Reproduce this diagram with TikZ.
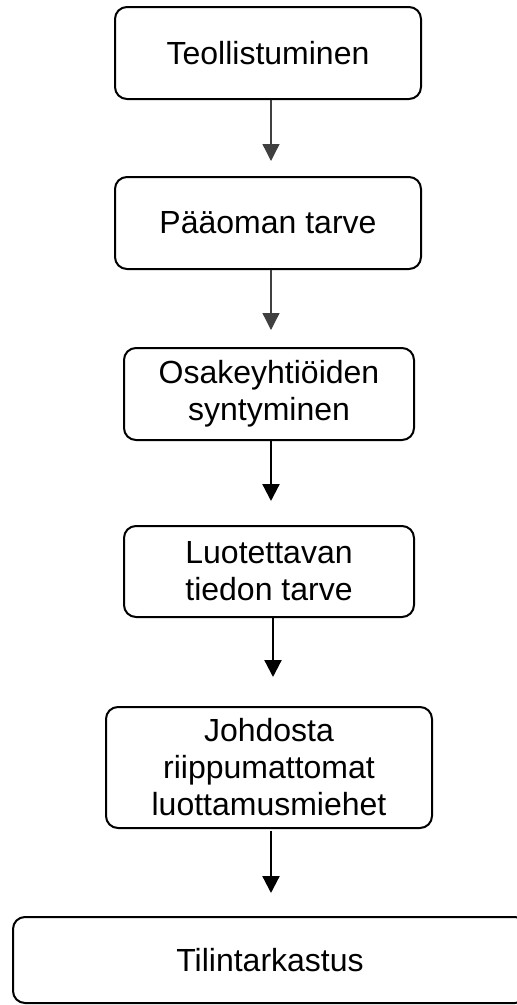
\documentclass[tikz,border=0pt]{standalone}
\usepackage{fontspec}
\setmainfont{Liberation Sans}
\usetikzlibrary{arrows.meta}
\begin{document}
\begin{tikzpicture}[x=1pt,y=-1pt,
  box/.style={draw=black, line width=2pt, rounded corners=12pt, align=center,
    font=\fontsize{32}{37}\selectfont, inner sep=0pt},
  thinarr/.style={draw=black!75, line width=1.3pt, -{Triangle[width=17pt,length=17pt]}},
  thickarr/.style={draw=black, line width=2.2pt, -{Triangle[width=17pt,length=17pt]}}]
\useasboundingbox (0,0) rectangle (517,1005);
\node[box, minimum width=306pt, minimum height=92pt] (b1) at (268,53) {Teollistuminen};
\node[box, minimum width=306pt, minimum height=92pt] (b2) at (268,223) {Pääoman tarve};
\node[box, minimum width=290pt, minimum height=92pt] (b3) at (269,394) {Osakeyhtiöiden\\syntyminen};
\node[box, minimum width=290pt, minimum height=91pt] (b4) at (269,571.5) {Luotettavan\\tiedon tarve};
\node[box, minimum width=326pt, minimum height=121pt] (b5) at (269,767.5) {Johdosta\\riippumattomat\\luottamusmiehet};
\node[box, minimum width=514pt, minimum height=86pt] (b6) at (270,960) {Tilintarkastus};
\draw[thinarr, shorten >=15pt] ([xshift=3pt]b1.south) -- ([xshift=3pt]b1.south |- b2.north);
\draw[thinarr, shorten >=17pt] ([xshift=3pt]b2.south) -- ([xshift=3pt]b2.south |- b3.north);
\draw[thickarr, shorten >=24pt] ([xshift=2pt]b3.south) -- ([xshift=2pt]b3.south |- b4.north);
\draw[thickarr, shorten >=29pt] ([xshift=4pt]b4.south) -- ([xshift=4pt]b4.south |- b5.north);
\draw[thickarr, shorten >=23pt] ([xshift=2pt,yshift=-2pt]b5.south) -- ([xshift=2pt]b5.south |- b6.north);
\end{tikzpicture}
\end{document}
